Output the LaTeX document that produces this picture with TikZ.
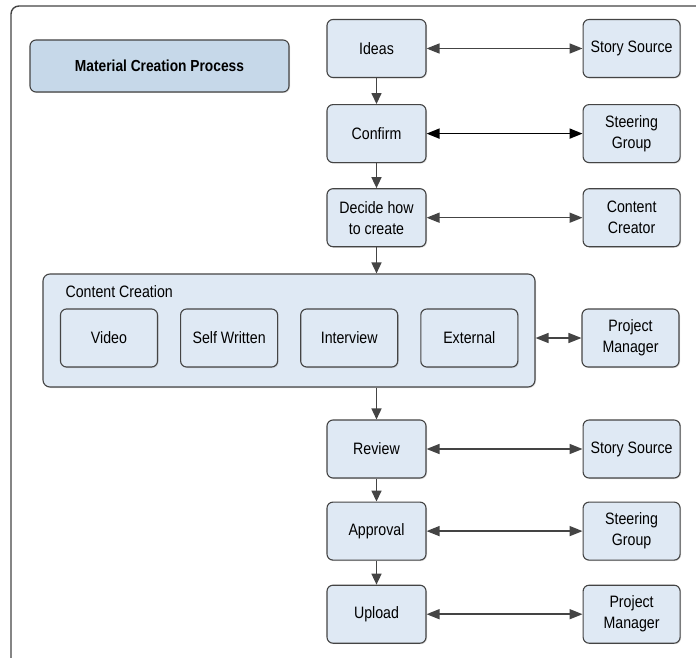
\documentclass[tikz,border=0pt]{standalone}
\usepackage{xcolor}
\usepackage{fontspec}
\setmainfont{Liberation Sans}[FakeStretch=0.86]
\usepackage{tikz}
\usetikzlibrary{positioning,arrows.meta,shadows}

\definecolor{boxfill}{RGB}{223,233,244}
\definecolor{titlefill}{RGB}{198,216,233}
\definecolor{linegray}{RGB}{68,68,68}

\tikzset{
    stepbox/.style={draw=linegray, line width=1.1pt, fill=boxfill, rounded corners=6pt,
        minimum width=99pt, minimum height=58pt, align=center, font=\fontsize{16.5}{21}\selectfont,
        drop shadow={shadow xshift=1pt, shadow yshift=-1pt, opacity=0.25}},
    rolebox/.style={stepbox, minimum width=97pt},
    flow/.style={-{Triangle[length=11pt,width=10pt]}, line width=1.5pt, draw=linegray},
    link/.style={{Triangle[length=13pt,width=10pt]}-{Triangle[length=13pt,width=10pt]}, line width=1.5pt, draw=linegray, fill=linegray}
}

\begin{document}
\begin{tikzpicture}[x=1pt, y=-1pt, node distance=25pt]
    \useasboundingbox (0,0) rectangle (696,658);
    \clip (0,0) rectangle (696,658);

    % outer frame
    \draw[linegray, line width=1.4pt, rounded corners=8pt] (11,6) rectangle (740,700);

    \node[stepbox, fill=titlefill, minimum width=259pt, minimum height=52pt, font=\bfseries\fontsize{16}{18}\selectfont] (title) at (159.5,66) {Material Creation Process};

    % main steps
    \node[stepbox] (ideas) at (376.5,48.5) {Ideas};
    \node[stepbox, below=26pt of ideas] (confirm) {Confirm};
    \node[stepbox, below=25pt of confirm] (decide) {Decide how\\to create};

    % content creation group
    \node[stepbox, minimum width=492pt, minimum height=113pt, rounded corners=7pt] (cc) at (289,330.5) {};
    \node[anchor=west, font=\fontsize{16.5}{20}\selectfont] (cclabel) at (62,292) {Content Creation};
    \node[rolebox] (video) at (109,338) {Video};
    \node[rolebox, right=22pt of video] (self) {Self Written};
    \node[rolebox, right=22pt of self] (interview) {Interview};
    \node[rolebox, right=22pt of interview] (external) {External};

    \node[stepbox] (review) at (376.5,449) {Review};
    \node[stepbox, below=23pt of review] (approval) {Approval};
    \node[stepbox, below=24pt of approval] (upload) {Upload};

    % people
    \node[rolebox, right=156pt of ideas] (src1) {Story Source};
    \node[rolebox, right=156pt of confirm] (steer1) {Steering\\Group};
    \node[rolebox, right=156pt of decide] (creator) {Content\\Creator};
    \node[rolebox] (pm1) at (630.5,338) {Project\\Manager};
    \node[rolebox, right=156pt of review] (src2) {Story Source};
    \node[rolebox, right=156pt of approval] (steer2) {Steering\\Group};
    \node[rolebox, right=156pt of upload] (pm2) {Project\\Manager};

    % flow down
    \draw[flow] (ideas) -- (confirm);
    \draw[flow] (confirm) -- (decide);
    \draw[flow] (decide.south) -- (decide.south |- cc.north);
    \draw[flow] (cc.south -| review.north) -- (review.north);
    \draw[flow] (review) -- (approval);
    \draw[flow] (approval) -- (upload);

    % links
    \draw[link] (ideas) -- (src1);
    \draw[link, draw=black, fill=black, line width=1.7pt] (confirm) -- (steer1);
    \draw[link] (decide) -- (creator);
    \draw[link] (cc.east |- pm1.west) -- (pm1.west);
    \draw[link] (review) -- (src2);
    \draw[link] (approval) -- (steer2);
    \draw[link] (upload) -- (pm2);
\end{tikzpicture}
\end{document}
